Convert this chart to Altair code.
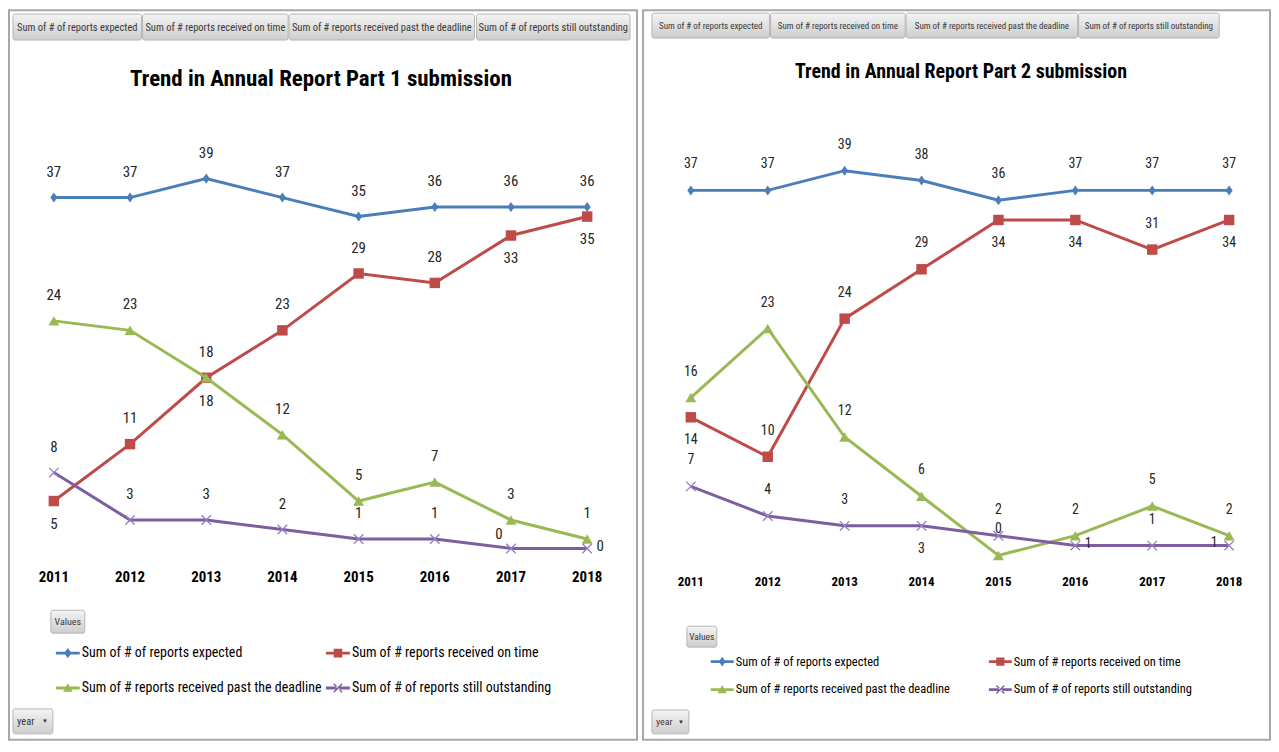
import altair as alt
import pandas as pd

# ---------------- data ----------------
years = [2011, 2012, 2013, 2014, 2015, 2016, 2017, 2018]
series_names = [
    "Sum of # of reports expected",
    "Sum of # reports received on time",
    "Sum of # reports received past the deadline",
    "Sum of # of reports still outstanding",
]
button_labels = series_names

p1_expected = [37, 37, 39, 37, 35, 36, 36, 36]
p1_on_time = [5, 11, 18, 23, 29, 28, 33, 35]
p1_past_deadline = [24, 23, 18, 12, 5, 7, 3, 1]
p1_outstanding = [8, 3, 3, 2, 1, 1, 0, 0]

p2_expected = [37, 37, 39, 38, 36, 37, 37, 37]
p2_on_time = [14, 10, 24, 29, 34, 34, 31, 34]
p2_past_deadline = [16, 23, 12, 6, 0, 2, 5, 2]
p2_outstanding = [7, 4, 3, 3, 2, 1, 1, 1]

titles = ["Trend in Annual Report Part 1 submission",
          "Trend in Annual Report Part 2 submission"]

# data-label placement (style only)
A, B, L, R, AL = "above", "below", "left", "right", "aboveleft"
p1_label_pos = [
    [A] * 8,
    [B, A, B, A, A, A, B, B],
    [A] * 8,
    [A, A, A, A, A, A, AL, R],
]
p2_label_pos = [
    [A] * 8,
    [B, A, A, A, B, B, A, B],
    [A] * 8,
    [A, A, A, B, A, R, A, L],
]

# ---------------- style ----------------
FONT = "Liberation Sans Narrow, Roboto Condensed, Liberation Sans, sans-serif"
colors = ["#4A7EBB", "#BE4B48", "#98B954", "#7D5FA0"]
marker_shapes = ["M0,-1.2L0.85,0L0,1.2L-0.85,0Z", "square", "triangle-up",
                 "M-1,-1L1,1M-1,1L1,-1"]
marker_sizes = [70, 110, 120, 90]
LINE = "M-1,-0.12H1V0.12H-1Z"
legend_paths = [
    LINE + "M0,-0.42L0.3,0L0,0.42L-0.3,0Z",
    LINE + "M-0.36,-0.36H0.36V0.36H-0.36Z",
    LINE + "M0,-0.4L0.4,0.32H-0.4Z",
    LINE + "M-0.39,-0.31L0.31,0.39L0.39,0.31L-0.31,-0.39Z"
           "M0.31,-0.39L0.39,-0.31L-0.31,0.39L-0.39,0.31Z",
]
grad = alt.Gradient(
    gradient="linear",
    stops=[alt.GradientStop(color="#f4f4f4", offset=0),
           alt.GradientStop(color="#cdcdcd", offset=1)],
    x1=0, x2=0, y1=0, y2=1,
)
H = 732

cfg1 = dict(W=630, x2011=45, x2018=580, y0=540, y39=169,
            buttons=[(4, 133), (134, 280), (281, 467), (469, 623)], by=(4, 30), bfs=10.5,
            tx=313, ty=69, tfs=23, year_y=569, yfs=15, lfs=15,
            vb=(42, 76, 602, 625), vfs=10,
            legx=47, legy=633, sym=576, colpad=4, rowpad=16, legfs=14,
            yb=(4, 44, 701, 726))
cfg2 = dict(W=629, x2011=48, x2018=588, y0=547, y39=161,
            buttons=[(9, 127), (128, 263), (264, 436), (437, 578)], by=(3, 28), bfs=9,
            tx=319, ty=62, tfs=20, year_y=574, yfs=13, lfs=14,
            vb=(44, 74, 618, 639), vfs=9.5,
            legx=68, legy=642, sym=529, colpad=38, rowpad=10, legfs=12.5,
            yb=(9, 46, 702, 726))

offsets = {A: (0, -26), B: (0, 23), L: (-15, -3), R: (13, -2), AL: (-12, -14)}


def button(label, x1, x2, y1, y2, fs, align="center"):
    d = pd.DataFrame({"t": [label]})
    rect = alt.Chart(d).mark_rect(fill=grad, stroke="#b5b5b5", strokeWidth=1,
                                  cornerRadius=2).encode(
        x=alt.value(x1), x2=alt.value(x2), y=alt.value(y1), y2=alt.value(y2))
    tx = (x1 + x2) / 2 if align == "center" else x1 + 4
    txt = alt.Chart(d).mark_text(font=FONT, fontSize=fs, color="#3a3a3a",
                                 align=align, baseline="middle").encode(
        x=alt.value(tx), y=alt.value((y1 + y2) / 2 + 0.5), text="t:N")
    return [rect, txt]


def make_panel(vals, label_pos, title, c):
    rows = []
    for si, name in enumerate(series_names):
        for yi, yr in enumerate(years):
            rows.append(dict(year=yr, series=name, value=vals[si][yi],
                             pos=label_pos[si][yi]))
    df = pd.DataFrame(rows)
    W = c["W"]
    sx = (c["x2018"] - c["x2011"]) / 7.0
    d0 = 2011 - c["x2011"] / sx
    xs = alt.Scale(domain=[d0, d0 + W / sx], nice=False, zero=False)
    sy = (c["y0"] - c["y39"]) / 39.0
    ys = alt.Scale(domain=[-(H - c["y0"]) / sy, c["y0"] / sy], nice=False, zero=False)
    X = alt.X("year:Q", scale=xs, axis=None)
    Y = alt.Y("value:Q", scale=ys, axis=None)

    layers = []
    # buttons at top
    for lab, (x1, x2) in zip(button_labels, c["buttons"]):
        layers += button(lab, x1, x2, c["by"][0], c["by"][1], c["bfs"])
    # title
    layers.append(alt.Chart(pd.DataFrame({"t": [title]})).mark_text(
        font=FONT, fontSize=c["tfs"], fontWeight="bold", color="#000000",
        align="center", baseline="middle").encode(
        x=alt.value(c["tx"]), y=alt.value(c["ty"]), text="t:N"))

    base = alt.Chart(df)
    # lines + markers
    for i, name in enumerate(series_names):
        sub = base.transform_filter(alt.datum.series == name)
        layers.append(sub.mark_line(color=colors[i], strokeWidth=3).encode(x=X, y=Y))
        if i == 3:
            layers.append(sub.mark_point(shape=marker_shapes[i], filled=False,
                                         size=marker_sizes[i], color="#9580c0",
                                         strokeWidth=1.3, opacity=1).encode(x=X, y=Y))
        else:
            layers.append(sub.mark_point(shape=marker_shapes[i], filled=True,
                                         size=marker_sizes[i], color=colors[i],
                                         strokeWidth=0, opacity=1).encode(x=X, y=Y))
    # data labels
    for p, (dx, dy) in offsets.items():
        layers.append(base.transform_filter(alt.datum.pos == p).mark_text(
            font=FONT, fontSize=c["lfs"], color="#262626", dx=dx, dy=dy,
            align="center", baseline="middle").encode(
            x=X, y=Y, text=alt.Text("value:Q", format="d")))
    # year labels
    ydf = pd.DataFrame({"year": years, "lab": [str(v) for v in years]})
    layers.append(alt.Chart(ydf).mark_text(
        font=FONT, fontSize=c["yfs"], fontWeight="bold", color="#000000",
        align="center", baseline="middle").encode(
        x=X, y=alt.value(c["year_y"]), text="lab:N"))
    # "Values" and "year" buttons
    vx1, vx2, vy1, vy2 = c["vb"]
    layers += button("Values", vx1, vx2, vy1, vy2, c["vfs"])
    bx1, bx2, by1, by2 = c["yb"]
    layers += button("year", bx1, bx2, by1, by2, c["vfs"] + 0.5, align="left")
    layers.append(alt.Chart(pd.DataFrame({"t": ["▼"]})).mark_text(
        fontSize=6, color="#333333", align="center", baseline="middle").encode(
        x=alt.value(bx2 - 8), y=alt.value((by1 + by2) / 2), text="t:N"))

    # legend (from scales, no visible marks)
    leg = alt.Legend(orient="none", legendX=c["legx"], legendY=c["legy"], columns=2,
                     direction="horizontal",
                     columnPadding=c["colpad"], rowPadding=c["rowpad"], title=None,
                     labelFont=FONT, labelFontSize=c["legfs"], labelColor="#000000",
                     labelOffset=2, labelLimit=500, symbolSize=c["sym"],
                     symbolStrokeWidth=0, padding=0)
    layers.append(alt.Chart(df).mark_point(filled=True, opacity=1, strokeWidth=0).encode(
        color=alt.Color("series:N", scale=alt.Scale(domain=series_names, range=colors),
                        legend=leg),
        shape=alt.Shape("series:N", scale=alt.Scale(domain=series_names, range=legend_paths),
                        legend=leg),
    ).transform_filter("false"))

    return alt.layer(*layers).properties(width=W, height=H)


p1 = make_panel([p1_expected, p1_on_time, p1_past_deadline, p1_outstanding],
                p1_label_pos, titles[0], cfg1)
p2 = make_panel([p2_expected, p2_on_time, p2_past_deadline, p2_outstanding],
                p2_label_pos, titles[1], cfg2)

chart = alt.hconcat(p1, p2, spacing=4).resolve_scale(
    x="independent", y="independent", color="independent", shape="independent"
).resolve_legend(color="independent", shape="independent").properties(
    padding=0, background="#ffffff"
).configure_view(stroke="#a8a8a8", strokeWidth=2)

chart.save("out.html", embed_options={"renderer": "svg", "actions": False})
